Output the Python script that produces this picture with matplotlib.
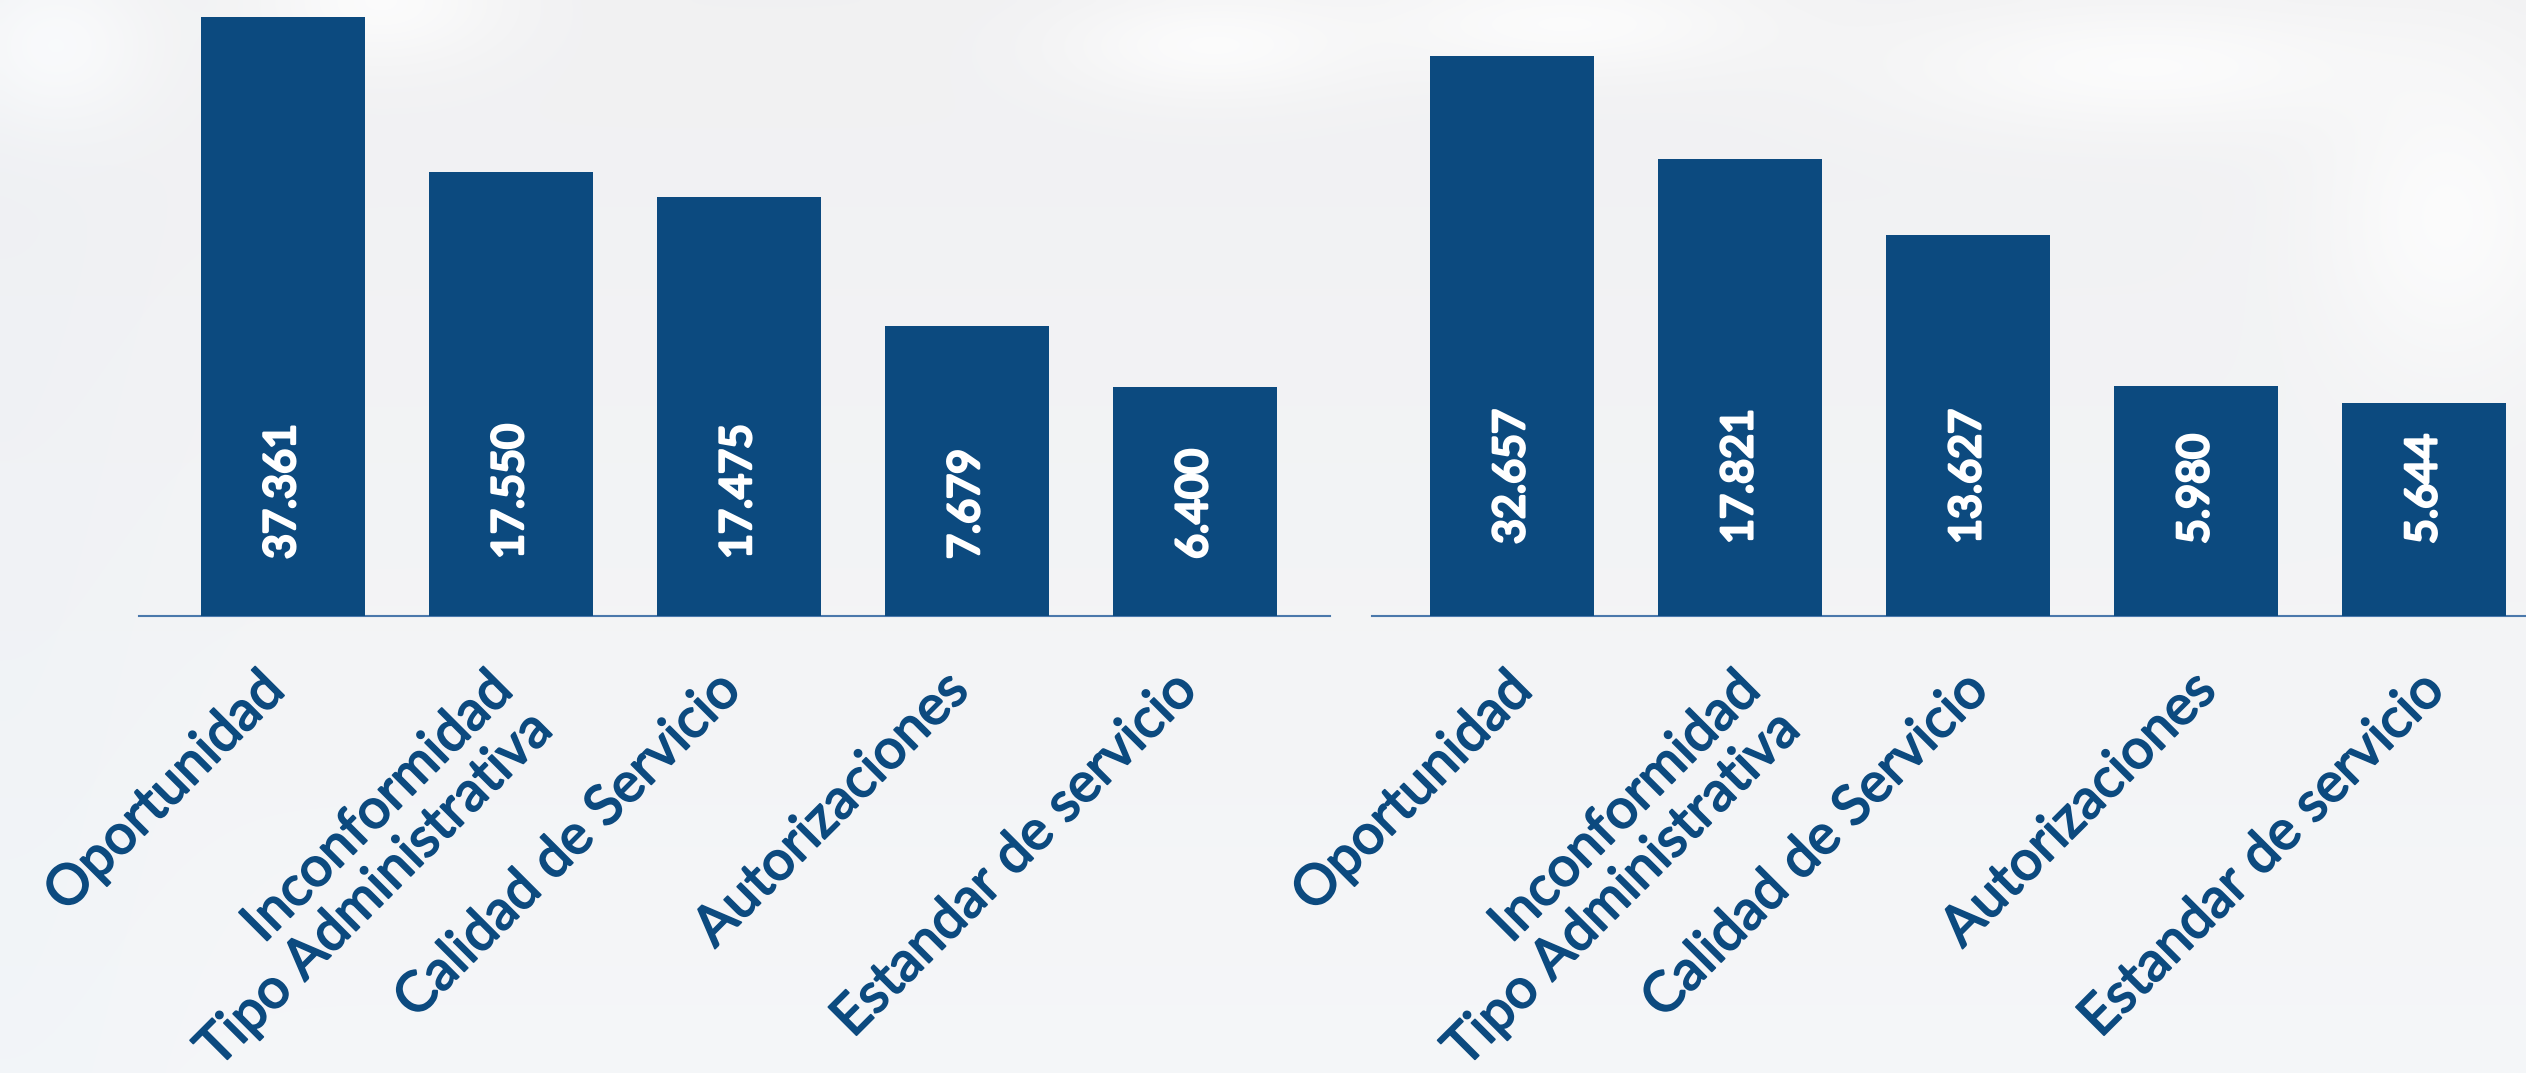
"""
Dos graficos de barras: quejas por motivo (dos periodos).
"""
import numpy as np
import matplotlib
matplotlib.use("Agg")
import matplotlib.pyplot as plt
import matplotlib.transforms as mtransforms
import matplotlib.patheffects as pe

# categorias (iguales en los dos graficos)
categorias = ["Oportunidad", "Inconformidad\nTipo Administrativa",
              "Calidad de Servicio", "Autorizaciones", "Estandar de servicio"]

# valores que se leen en las etiquetas
valores_izq = [37361, 17550, 17475, 7679, 6400]
valores_der = [32657, 17821, 13627, 5980, 5644]

# altura de las barras tal como se ve en la imagen (no es proporcional al valor)
altura_izq = [599, 444, 419, 290, 229]
altura_der = [560, 457, 381, 230, 213]

AZUL = "#0c4a7f"
LINEA = "#4a78ab"
W, H = 2526, 1073


def fmt(v):
    # separador de miles con punto
    return f"{v:,}".replace(",", ".")


def fondo(fig):
    """ Fondo claro, un poco difuminado """
    ax = fig.add_axes([0, 0, 1, 1], zorder=-10)
    yy, xx = np.mgrid[0:1:200j, 0:1:400j]
    base = np.zeros((200, 400, 3))
    top = np.array([0.945, 0.945, 0.950])
    bot = np.array([0.960, 0.966, 0.975])
    for c in range(3):
        base[:, :, c] = top[c] + (bot[c] - top[c]) * yy
    # manchas blancas arriba
    for cx, cy, sx, sy in [(0.02, 0.04, 0.04, 0.08), (0.15, 0.0, 0.05, 0.06),
                           (0.48, 0.04, 0.06, 0.05), (0.62, 0.02, 0.08, 0.05),
                           (0.85, 0.06, 0.10, 0.06), (0.97, 0.2, 0.05, 0.15)]:
        g = np.exp(-(((xx - cx) / sx) ** 2 + ((yy - cy) / sy) ** 2))
        for c in range(3):
            base[:, :, c] += (0.995 - base[:, :, c]) * 0.8 * g
    # lateral izquierdo algo azulado
    g = np.exp(-((xx - 0.0) / 0.06) ** 2)
    base[:, :, 0] -= 0.01 * g
    base[:, :, 1] -= 0.005 * g
    ax.imshow(np.clip(base, 0, 1), extent=[0, 1, 0, 1], aspect="auto",
              interpolation="bicubic")
    ax.set_axis_off()


def grafico(ax, alturas, valores, y_val, dx, xlim):
    x = np.arange(len(alturas))
    ax.bar(x, alturas, width=0.72, color=AZUL, zorder=3)
    ax.set_xlim(*xlim)
    ax.set_ylim(0, 616)
    ax.patch.set_alpha(0)
    for s in ["top", "right", "left"]:
        ax.spines[s].set_visible(False)
    ax.spines["bottom"].set_color(LINEA)
    ax.spines["bottom"].set_linewidth(1.5)
    ax.set_xticks([])
    ax.set_yticks([])
    for xi, v in zip(x, valores):
        ax.text(xi, y_val, fmt(v), rotation=90, ha="center", va="bottom",
                color="white", fontsize=31, family=["Lato", "DejaVu Sans"],
                zorder=4,
                path_effects=[pe.withStroke(linewidth=2.2, foreground="white")])
    trans = mtransforms.blended_transform_factory(ax.transData, ax.transAxes)
    for xi, lab in zip(x, categorias):
        ax.text(xi + dx, -48 / 616, lab, transform=trans, rotation=45,
                rotation_mode="anchor", ha="right", va="top",
                color=AZUL, fontsize=40, family=["Lato", "DejaVu Sans"],
                linespacing=1.12,
                path_effects=[pe.withStroke(linewidth=1.3, foreground=AZUL)])


fig = plt.figure(figsize=(W / 100, H / 100), dpi=100)
fondo(fig)

ax1 = fig.add_axes([139 / W, 457 / H, 1191 / W, 616 / H])
grafico(ax1, altura_izq, valores_izq, 57, -0.11, (-0.63, 4.593))

ax2 = fig.add_axes([1372 / W, 457 / H, 1154 / W, 616 / H])
grafico(ax2, altura_der, valores_der, 72, -0.03, (-0.614, 4.447))

fig.savefig("out.png", dpi=100)
